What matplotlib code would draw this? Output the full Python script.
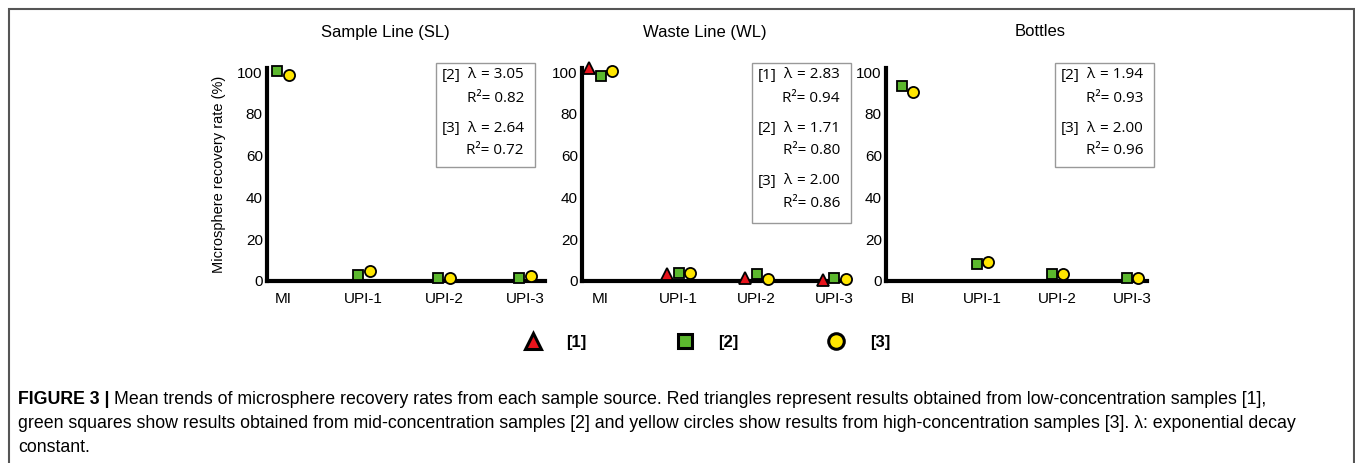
import matplotlib.pyplot as plt
from matplotlib.lines import Line2D
from matplotlib.patches import Rectangle

W, H = 1355, 463

# data
titles = ["Sample Line (SL)", "Waste Line (WL)", "Bottles"]
cats_sl = ["MI", "UPI-1", "UPI-2", "UPI-3"]
cats_wl = ["MI", "UPI-1", "UPI-2", "UPI-3"]
cats_bt = ["BI", "UPI-1", "UPI-2", "UPI-3"]

sl_2 = [100.5, 3.0, 1.6, 1.6]
sl_3 = [98.5, 5.0, 1.3, 2.6]
wl_1 = [102.0, 3.2, 1.6, 0.5]
wl_2 = [98.4, 4.0, 3.3, 1.6]
wl_3 = [100.5, 4.0, 0.8, 0.8]
bt_2 = [93.4, 8.1, 3.3, 1.4]
bt_3 = [90.6, 9.2, 3.3, 1.4]

sl_fit = [("[2]", "3.05", "0.82"), ("[3]", "2.64", "0.72")]
wl_fit = [("[1]", "2.83", "0.94"), ("[2]", "1.71", "0.80"), ("[3]", "2.00", "0.86")]
bt_fit = [("[2]", "1.94", "0.93"), ("[3]", "2.00", "0.96")]

styles = {
    "[1]": dict(marker="^", mfc="#e8141c", ms=8.5),
    "[2]": dict(marker="s", mfc="#5cb82e", ms=7.5),
    "[3]": dict(marker="o", mfc="#ffe600", ms=8),
}

plt.rcParams['font.family'] = ['Liberation Sans', 'DejaVu Sans']

fig = plt.figure(figsize=(W / 100, H / 100), dpi=100)


def px_axes(l, r, b, t):
    return fig.add_axes([l / W, 1 - b / H, (r - l) / W, (b - t) / H])


panels = [
    (titles[0], cats_sl, [("[2]", sl_2), ("[3]", sl_3)], sl_fit, (267, 545), (-0.2, 3.25), 385, 436, 535),
    (titles[1], cats_wl, [("[1]", wl_1), ("[2]", wl_2), ("[3]", wl_3)], wl_fit, (582, 850), (-0.24, 3.2), 705, 752, 851),
    (titles[2], cats_bt, [("[2]", bt_2), ("[3]", bt_3)], bt_fit, (886, 1147), (-0.29, 3.19), 1040, 1055, 1154),
]

for title, cats, series, fits, (l, r), xl, tx, bx0, bx1 in panels:
    ax = px_axes(l, r, 281, 68)
    n = len(series)
    for i, (name, vals) in enumerate(series):
        off = (i - (n - 1) / 2) * 0.15
        xs = [k + off for k in range(len(vals))]
        ax.plot(xs, vals, linestyle="none", mec="black", mew=1.3,
                clip_on=False, zorder=5, **styles[name])
    ax.set_xlim(*xl)
    ax.set_ylim(0, 102)
    ax.set_xticks(range(len(cats)))
    ax.set_xticklabels(cats)
    ax.set_yticks([0, 20, 40, 60, 80, 100])
    ax.tick_params(length=0, labelsize=11)
    ax.tick_params(axis="x", pad=8)
    ax.tick_params(axis="y", pad=3)
    for s in ["top", "right"]:
        ax.spines[s].set_visible(False)
    for s in ["left", "bottom"]:
        ax.spines[s].set_linewidth(3)
    fig.text(tx / W, 1 - 32 / H, title, ha="center", va="center", fontsize=12)

    # fit parameter box
    top = 63
    bh = 104 if len(fits) == 2 else 160
    fig.patches.append(Rectangle((bx0 / W, 1 - (top + bh) / H), (bx1 - bx0) / W, bh / H,
                                 transform=fig.transFigure, fill=False,
                                 edgecolor="#999999", linewidth=1))
    for k, (lab, lam, r2) in enumerate(fits):
        y1 = top + 12 + k * 53
        y2 = y1 + 23
        fig.text((bx0 + 6) / W, 1 - y1 / H, lab, va="center", fontsize=11, family="Open Sans")
        fig.text((bx0 + 31) / W, 1 - y1 / H, "λ", va="center", fontsize=11, family=["Open Sans", "DejaVu Sans"])
        fig.text((bx0 + 88) / W, 1 - y1 / H, "= " + lam, va="center", ha="right", fontsize=11, family="Open Sans")
        fig.text((bx0 + 88) / W, 1 - y2 / H, "R²= " + r2, va="center", ha="right", fontsize=11, family="Open Sans")

    if title == titles[0]:
        ax.set_ylabel("Microsphere recovery rate (%)", fontsize=10.5, labelpad=8)

# legend
handles = [Line2D([], [], linestyle="none", mec="black", mew=2.2,
                  marker=styles[k]["marker"], mfc=styles[k]["mfc"], ms=styles[k]["ms"] * 1.4)
           for k in ["[1]", "[2]", "[3]"]]
fig.legend(handles, ["[1]", "[2]", "[3]"], loc="center", bbox_to_anchor=(703 / W, 1 - 342 / H),
           ncol=3, frameon=False, prop=dict(weight="bold", size=12),
           handletextpad=1.0, columnspacing=4.9)

# frame around figure
fig.patches.append(Rectangle((9 / W, -0.05), (1354 - 9) / W, 1.05 - 9 / H,
                             transform=fig.transFigure, fill=False,
                             edgecolor="#555555", linewidth=1.5))

caption = [
    "Mean trends of microsphere recovery rates from each sample source. Red triangles represent results obtained from low-concentration samples [1],",
    "green squares show results obtained from mid-concentration samples [2] and yellow circles show results from high-concentration samples [3]. λ: exponential decay",
    "constant.",
]
t0 = fig.text(18 / W, 1 - 399 / H, "FIGURE 3 |", fontsize=12.75, weight="bold", va="center")
fig.canvas.draw()
bb = t0.get_window_extent()
fig.text((bb.x1 + 4) / W, 1 - 399 / H, caption[0], fontsize=12.75, va="center")
fig.text(18 / W, 1 - 423 / H, caption[1], fontsize=12.75, va="center")
fig.text(18 / W, 1 - 447 / H, caption[2], fontsize=12.75, va="center")

fig.savefig("out.png", dpi=100)
